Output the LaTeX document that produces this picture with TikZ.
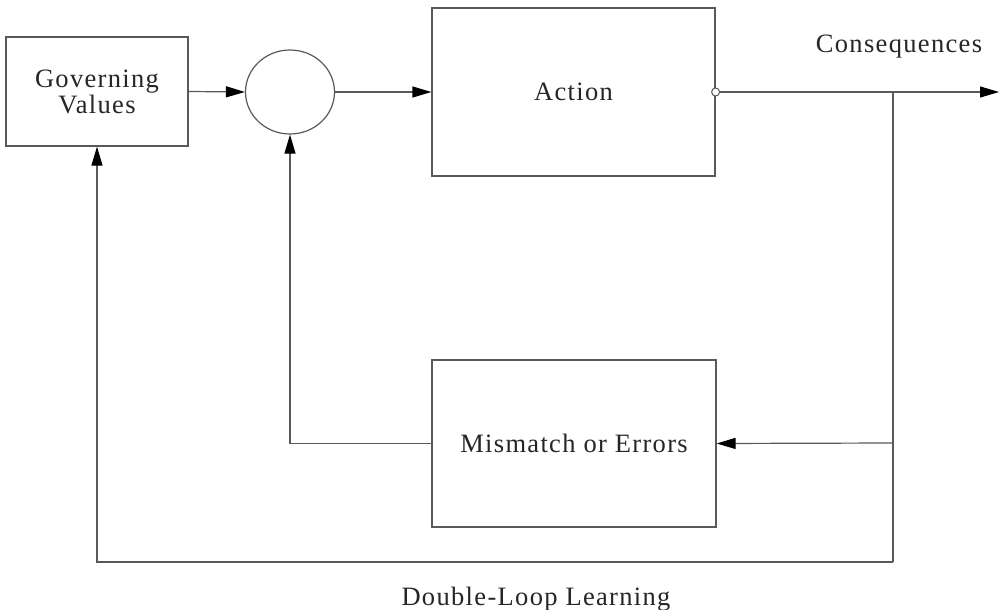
\documentclass[tikz,border=0pt]{standalone}
\usepackage{fontspec}
\setmainfont{Liberation Serif}[LetterSpace=5]
\usetikzlibrary{arrows.meta,shapes.geometric}
\begin{document}
\begin{tikzpicture}[x=1pt,y=-1pt,
  lbl/.style={font=\fontsize{26.5}{26}\selectfont, text=black!85},
  box/.style={draw=black!65, line width=1.2pt, rectangle, inner sep=0pt, align=center, lbl},
  line/.style={draw=black!65, line width=1.2pt},
  conn/.style={line, -{Triangle[length=19pt,width=11pt,color=black]}}
]
\useasboundingbox[fill=white] (0,0) rectangle (1002,610);

\node[box, minimum width=182pt, minimum height=109pt] (gv) at (97,91.5) {Governing\\Values};
\node[draw=black!65, line width=1.2pt, ellipse, minimum width=89pt, minimum height=84pt, inner sep=0pt] (sum) at (290,92) {};
\node[box, minimum width=283pt, minimum height=168pt] (act) at (573.5,92) {Action};
\node[box, minimum width=284pt, minimum height=167pt] (mis) at (574,443.5) {Mismatch or Errors};
\node[draw=black!65, line width=1pt, circle, minimum size=8pt, inner sep=0pt, fill=white] (oc) at (act.east) {};

\node[lbl, anchor=base] (cons) at (899,53) {Consequences};
\node[lbl, anchor=base] (dll) at (536,605) {Double-Loop Learning};

\coordinate (out) at (999,92);
\coordinate (tap) at (893,92);
\coordinate (tapm) at (893,443);
\coordinate (tapb) at (893,562);

\draw[conn] (gv.east) -- (sum.west);
\draw[conn] (sum.east) -- (act.west);
\draw[conn] (oc.east) -- (out);
\draw[line] (tap) -- (tapb);
\draw[conn] (tapm) -- (mis.east);
\draw[conn] (mis.west) -| (sum.south);
\draw[conn] (tapb) -| (gv.south);
\end{tikzpicture}
\end{document}
